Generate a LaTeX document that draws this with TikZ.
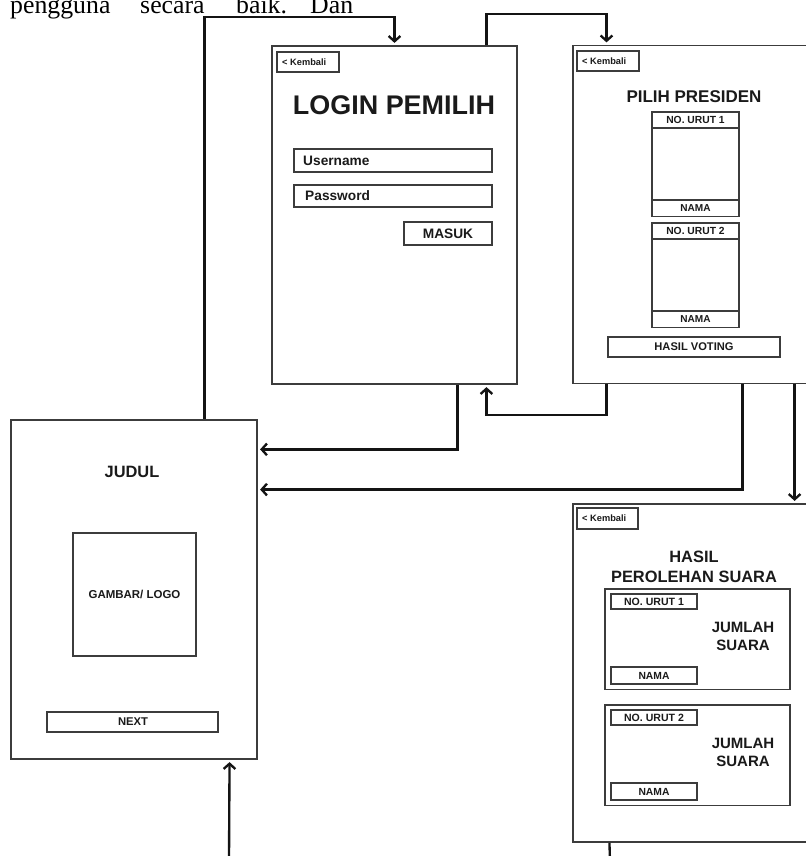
\documentclass[tikz,border=0pt]{standalone}
\usepackage{fontspec}
\setmainfont{Liberation Sans}
\newfontfamily\hurufserif{Liberation Serif}
\usetikzlibrary{calc,positioning,arrows.meta}
\definecolor{garisbox}{HTML}{3C3C3C}
\definecolor{garispanah}{HTML}{141414}
\definecolor{teks}{HTML}{1A1A1A}
\newcommand{\ukuran}[1]{\fontsize{#1}{#1}\selectfont\bfseries}
\newcommand{\kotak}[2]{\draw[widget] #1 rectangle #2;}
\tikzset{
  layar/.style={draw=garisbox,line width=1.3pt,fill=white,inner sep=0pt,
    minimum width=7.35cm,minimum height=10.14cm},
  widget/.style={draw=garisbox,line width=1.1pt},
  label/.style={inner sep=0pt,text=teks},
  panah/.style={draw=garispanah,line width=2pt,shorten >=2pt,
    -{Straight Barb[length=4.5pt,width=10pt]}},
  garis/.style={draw=garispanah,line width=2pt},
}

\begin{document}
\begin{tikzpicture}[x=0.03cm,y=-0.03cm]
  \useasboundingbox (0,0) rectangle (806,856);
  \clip (0,0) rectangle (806,856);
  % baris teks dokumen
  \begin{scope}[every node/.style={anchor=base west,inner sep=0pt,
      font=\hurufserif\fontsize{22pt}{22pt}\selectfont}]
    \node (kata1) at (10,13) {pengguna};
    \node (kata2) at (140,13) {secara};
    \node (kata3) at (236,13) {baik.};
    \node (kata4) at (310,13) {Dan};
  \end{scope}
  % layar
  \node[layar,minimum width=7.38cm,minimum height=10.17cm] (judul) at (134,589.5) {};
  \node[layar] (login) at (394.5,215) {};
  \node[layar] (pilih) at (695.5,214.5) {};
  \node[layar] (hasil) at (695.5,673) {};
  % alur
  \draw[panah] ($(judul.north west)!.785!(judul.north east)$) -- ++(0,-402) -| (login.north);
  \draw[panah] ($(login.north west)!.873!(login.north east)$) -- ++(0,-31)
    -| ($(pilih.north west)!.139!(pilih.north east)$);
  \draw[panah] ($(login.south west)!.755!(login.south east)$)
    |- ($(judul.north east)!.0885!(judul.south east)$);
  \draw[panah] ($(pilih.south west)!.139!(pilih.south east)$) -- ++(0,31)
    -| ($(login.south west)!.873!(login.south east)$);
  \draw[panah] ($(pilih.south west)!.69!(pilih.south east)$)
    |- ($(judul.north east)!.2065!(judul.south east)$);
  \draw[panah] ($(pilih.south west)!.902!(pilih.south east)$)
    -- ($(hasil.north west)!.902!(hasil.north east)$);
  \coordinate (bawahkiri) at (229,862);
  \coordinate (bawahkanan) at (610,862);
  \draw[panah] (bawahkiri) -- ($(judul.south west)!.886!(judul.south east)$);
  \draw[garis] ($(hasil.south west)!.151!(hasil.south east)$) -- (bawahkanan);
  % layar judul
  \node[label,font=\ukuran{14pt}] (judulteks) at (132,472) {JUDUL};
  \kotak{(73,533)}{(196,656)}
  \node[label,font=\ukuran{9.8pt}] (logo) at (134.5,594.5) {GAMBAR/ LOGO};
  \kotak{(47,712)}{(218,732)}
  \node[label,font=\ukuran{9.6pt}] (next) at (133,722) {NEXT};
  % layar login
  \kotak{(277,52)}{(339,72)}
  \node[label,anchor=west,font=\ukuran{7.9pt}] (kembali1) at (282,62) {< Kembali};
  \node[label,font=\ukuran{23pt}] (logintitle) at (394,105) {LOGIN PEMILIH};
  \kotak{(294,149)}{(492,172)}
  \node[label,anchor=west,font=\ukuran{11.7pt}] (username) at (303,160.5) {Username};
  \kotak{(294,185)}{(492,207)}
  \node[label,anchor=west,font=\ukuran{11.7pt}] (password) at (305,196) {Password};
  \kotak{(404,222)}{(492,245)}
  \node[label,font=\ukuran{11.7pt}] (masuk) at (448,233.5) {MASUK};
  % layar pilih presiden
  \kotak{(577,51)}{(639,71)}
  \node[label,anchor=west,font=\ukuran{7.9pt}] (kembali2) at (582,61) {< Kembali};
  \node[label,font=\ukuran{14.5pt}] (piliht) at (694,97) {PILIH PRESIDEN};
  \foreach \n/\y in {1/112,2/223}{
    \kotak{(652,\y)}{(739,\y+104.5)}
    \draw[widget] (652,\y+16) -- (739,\y+16);
    \draw[widget] (652,\y+88) -- (739,\y+88);
    \node[label,font=\ukuran{8.8pt}] (urut\n) at (695.5,\y+8) {NO. URUT \n};
    \node[label,font=\ukuran{8.6pt}] (nama\n) at (695.5,\y+96.5) {NAMA};
  }
  \kotak{(608,337)}{(780,357)}
  \node[label,font=\ukuran{9.5pt}] (voting) at (694,347) {HASIL VOTING};
  % layar hasil
  \kotak{(577,508)}{(638,529)}
  \node[label,anchor=west,font=\ukuran{7.9pt}] (kembali3) at (582,518.5) {< Kembali};
  \node[label,align=center,font=\fontsize{14pt}{17pt}\selectfont\bfseries] (hasilt) at (694,567) {HASIL\\PEROLEHAN SUARA};
  \foreach \n/\y in {1/589,2/705}{
    \kotak{(605,\y)}{(790,\y+100.5)}
    \kotak{(611,\y+5)}{(697,\y+20)}
    \node[label,font=\ukuran{9pt}] (hurut\n) at (654,\y+12.5) {NO. URUT \n};
    \kotak{(611,\y+78)}{(697,\y+95)}
    \node[label,font=\ukuran{8.8pt}] (hnama\n) at (654,\y+86.5) {NAMA};
    \node[label,align=center,font=\fontsize{12.8pt}{15.4pt}\selectfont\bfseries] (jumlah\n) at (743,\y+47) {JUMLAH\\SUARA};
  }
\end{tikzpicture}
\end{document}
